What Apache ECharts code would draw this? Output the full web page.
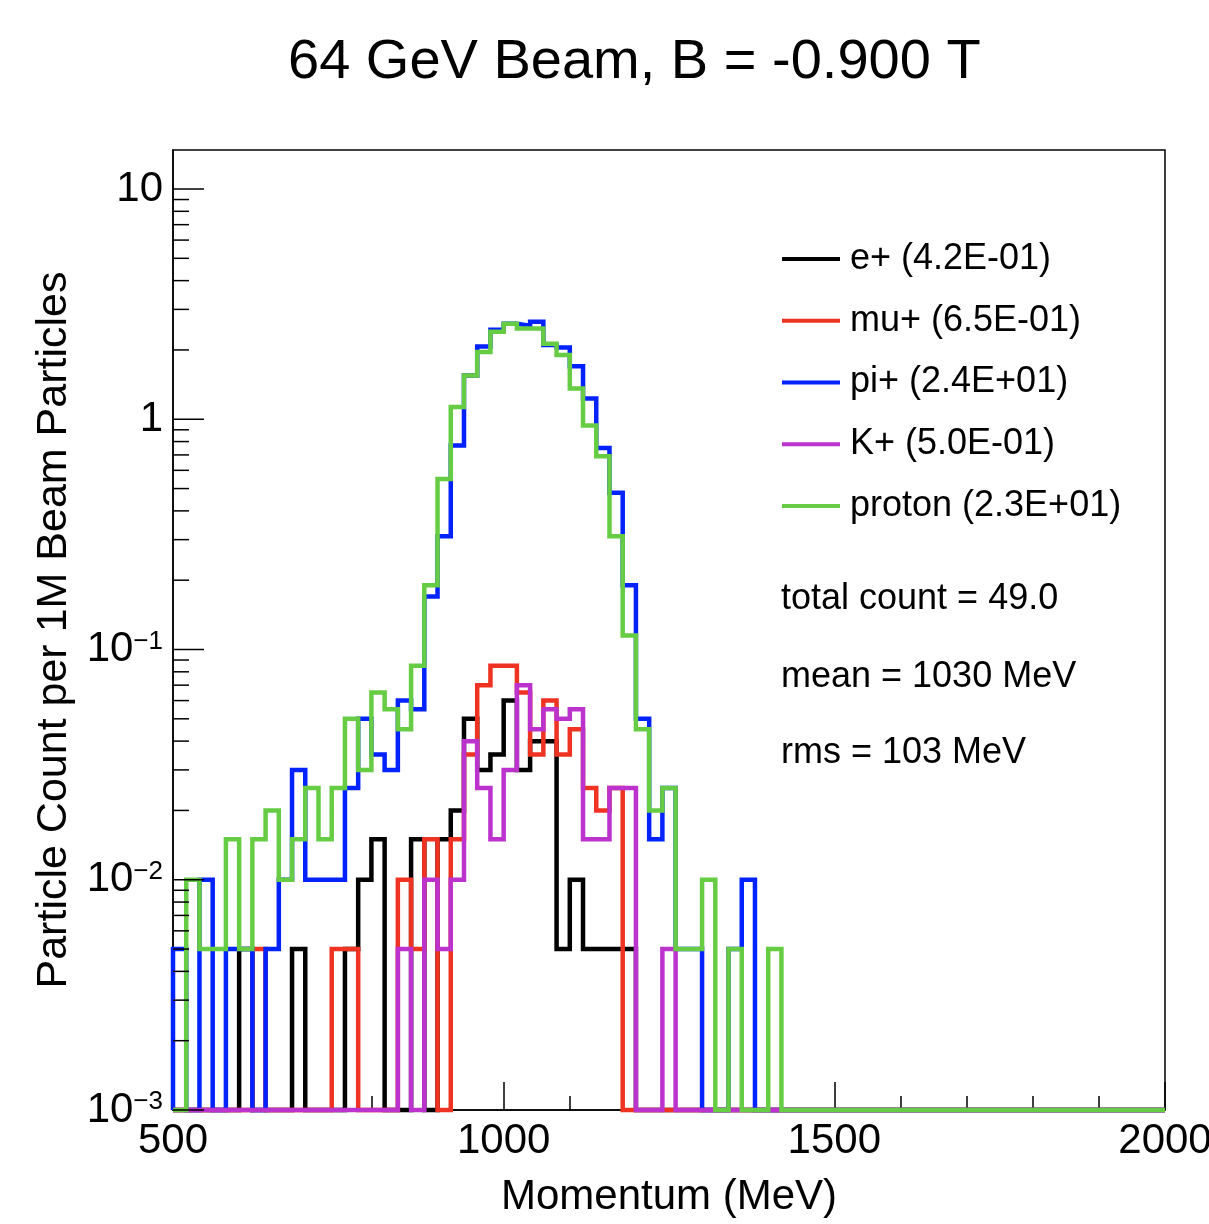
<!DOCTYPE html>
<html><head><meta charset="utf-8">
<script src="https://cdn.jsdelivr.net/npm/echarts@6/dist/echarts.min.js"></script>
<style>html,body{margin:0;padding:0;background:#fff}#c{width:1209px;height:1224px}</style>
</head><body><div id="c"></div>
<script>
// ---- axis ranges / ticks ----
const X_MIN = 500, X_MAX = 2000, N_BINS = 75;
const Y_MIN = 0.001, Y_MAX = 14.77;
const xTickStep = 500;

// ---- series (counts per 1M beam particles, 20 MeV bins from 500 MeV) ----
const seriesNames = ['e+', 'mu+', 'pi+', 'K+', 'proton'];
const legendTotals = ['4.2E-01', '6.5E-01', '2.4E+01', '5.0E-01', '2.3E+01'];
const seriesColors = ['#000000', '#ee3322', '#0022ff', '#bb33cc', '#66cc44'];

const ePlus = [0,0,0,0,0,0.005,0,0,0,0.005, 0,0,0,0.005,0.01,0.015,0,0,0.015,0,
  0.015,0.02,0.05,0.03,0.035,0.06,0.03,0.04,0.04,0.005, 0.01,0.005,0.005,0.005,0.005,0,0,0,0,0,
  0,0,0,0,0,0,0,0,0,0, 0,0,0,0,0,0,0,0,0,0, 0,0,0,0,0,0,0,0,0,0, 0,0,0,0,0];
const muPlus = [0,0,0,0,0,0,0.005,0,0,0, 0,0,0.005,0.005,0,0,0,0.01,0.005,0.015,
  0,0.015,0.035,0.07,0.085,0.085,0.065,0.035,0.06,0.035, 0.045,0.025,0.02,0.025,0,0,0,0,0,0,
  0,0,0,0,0,0,0,0,0,0, 0,0,0,0,0,0,0,0,0,0, 0,0,0,0,0,0,0,0,0,0, 0,0,0,0,0];
const piPlus = [0.005,0,0.01,0,0.005,0.005,0,0.005,0.01,0.03, 0.01,0.01,0.01,0.025,0.05,0.035,0.03,0.06,0.055,0.17,
  0.31,0.77,1.55,2.07,2.45,2.6,2.55,2.65,2.1,2.05, 1.7,1.23,0.75,0.48,0.19,0.05,0.015,0.025,0.005,0.005,
  0,0,0.005,0.01,0,0,0,0,0,0, 0,0,0,0,0,0,0,0,0,0, 0,0,0,0,0,0,0,0,0,0, 0,0,0,0,0];
const kPlus = [0,0,0,0,0,0,0,0,0,0, 0,0,0,0,0,0,0,0.005,0,0.01,
  0.005,0.01,0.04,0.025,0.015,0.03,0.07,0.045,0.055,0.05, 0.055,0.015,0.015,0.025,0.025,0,0,0.005,0,0,
  0,0,0,0,0,0,0,0,0,0, 0,0,0,0,0,0,0,0,0,0, 0,0,0,0,0,0,0,0,0,0, 0,0,0,0,0];
const proton = [0,0.01,0.005,0.005,0.015,0.005,0.015,0.02,0.01,0.015, 0.025,0.015,0.025,0.05,0.03,0.065,0.055,0.045,0.085,0.19,
  0.55,1.13,1.55,1.96,2.4,2.6,2.48,2.48,2.13,1.9, 1.36,0.94,0.69,0.31,0.115,0.045,0.02,0.025,0.005,0.005,
  0.01,0,0.005,0,0,0.005,0,0,0,0, 0,0,0,0,0,0,0,0,0,0, 0,0,0,0,0,0,0,0,0,0, 0,0,0,0,0];
const allSeries = [ePlus, muPlus, piPlus, kPlus, proton];

const titleText = '64 GeV Beam, B = -0.900 T';
const xTitle = 'Momentum (MeV)';
const yTitle = 'Particle Count per 1M Beam Particles';
const statLines = ['total count = 49.0', 'mean = 1030 MeV', 'rms = 103 MeV'];

const FONT = "'Liberation Sans', Arial, Helvetica, sans-serif";

// histogram outline from bin values (empty bins sit on the axis floor, as in ROOT)
function histPoints(vals) {
  const w = (X_MAX - X_MIN) / N_BINS;
  const pts = [[X_MIN, Y_MIN]];
  vals.forEach((v, i) => {
    const y = v > 0 ? v : Y_MIN;
    pts.push([X_MIN + i * w, y], [X_MIN + (i + 1) * w, y]);
  });
  pts.push([X_MAX, Y_MIN]);
  return pts;
}

function yLabel(v) {
  const l = Math.log10(v), e = Math.round(l);
  if (Math.abs(l - e) > 1e-6) return '';
  if (e === 0) return '1';
  if (e === 1) return '10';
  return '10{sup|\u2212' + (-e) + '}';
}

const chart = echarts.init(document.getElementById('c'), null, {renderer: 'canvas'});
chart.setOption({
  animation: false,
  backgroundColor: '#fff',
  title: {
    text: titleText, left: 288, top: 35, padding: 0,
    textStyle: {fontSize: 56, fontWeight: 'normal', color: '#000', fontFamily: FONT}
  },
  grid: {left: 173, top: 150, width: 992, height: 960, show: true, borderColor: '#000', borderWidth: 1.5,
         backgroundColor: 'transparent', containLabel: false, outerBoundsMode: 'none'},
  legend: {
    orient: 'vertical', left: 782, top: 239, padding: 0,
    itemWidth: 58, itemHeight: 4, itemGap: 21.75, icon: 'rect',
    data: seriesNames,
    formatter: name => name + ' (' + legendTotals[seriesNames.indexOf(name)] + ')',
    textStyle: {fontSize: 36, color: '#000', fontFamily: FONT, lineHeight: 40, padding: [0, 0, 0, 5]}
  },
  xAxis: {
    type: 'value', min: X_MIN, max: X_MAX, interval: xTickStep,
    axisLine: {show: true, lineStyle: {color: '#000', width: 1.5}},
    axisTick: {show: true, inside: true, length: 28, lineStyle: {color: '#000', width: 1.5}},
    minorTick: {show: true, splitNumber: 5, length: 14, lineStyle: {color: '#000', width: 1.5}},
    splitLine: {show: false},
    axisLabel: {fontSize: 42, color: '#000', fontFamily: FONT, margin: 10, showMinLabel: true, showMaxLabel: true,
                formatter: v => String(v)},
    name: xTitle, nameLocation: 'middle', nameGap: 66,
    nameTextStyle: {fontSize: 42, color: '#000', fontFamily: FONT}
  },
  yAxis: {
    type: 'log', logBase: 10, min: Y_MIN, max: Y_MAX,
    axisLine: {show: true, lineStyle: {color: '#000', width: 1.5}},
    axisTick: {show: false},
    splitLine: {show: false},
    axisLabel: {
      fontSize: 42, color: '#000', fontFamily: FONT, margin: 10,
      formatter: yLabel,
      rich: {sup: {fontSize: 26, color: '#000', fontFamily: FONT, verticalAlign: 'top', lineHeight: 26}}
    },
    name: yTitle, nameLocation: 'middle', nameGap: 96, nameRotate: 90,
    nameTextStyle: {fontSize: 43, color: '#000', fontFamily: FONT}
  },
  series: allSeries.map((vals, k) => ({
    name: seriesNames[k], type: 'line', data: histPoints(vals),
    showSymbol: false, symbol: 'none', clip: false,
    color: seriesColors[k],
    itemStyle: {color: seriesColors[k]},
    lineStyle: {color: seriesColors[k], width: 4.5, cap: 'butt', join: 'miter'},
    emphasis: {disabled: true}
  }))
});

// y-axis ticks (ROOT style: long at decades, short at 2..9), placed through the axis scale
const g = [];
const x0 = chart.convertToPixel({xAxisIndex: 0}, X_MIN);
for (let d = -3; d <= 1; d++) {
  for (let m = 1; m <= 9; m++) {
    const v = m * Math.pow(10, d);
    if (v < Y_MIN - 1e-12 || v > Y_MAX) continue;
    const y = chart.convertToPixel({yAxisIndex: 0}, v);
    g.push({type: 'line', shape: {x1: x0, y1: y, x2: x0 + (m === 1 ? 31 : 16), y2: y},
            style: {stroke: '#000', lineWidth: 1.5}, silent: true, z: 5});
  }
}
const statY = [599, 677, 753];
statLines.forEach((t, i) => {
  g.push({type: 'text', x: 781, y: statY[i], silent: true, z: 5,
          style: {text: t, fontSize: 36, fontFamily: FONT, fill: '#000', textAlign: 'left', textVerticalAlign: 'middle'}});
});
chart.setOption({graphic: g});
</script>
</body></html>
